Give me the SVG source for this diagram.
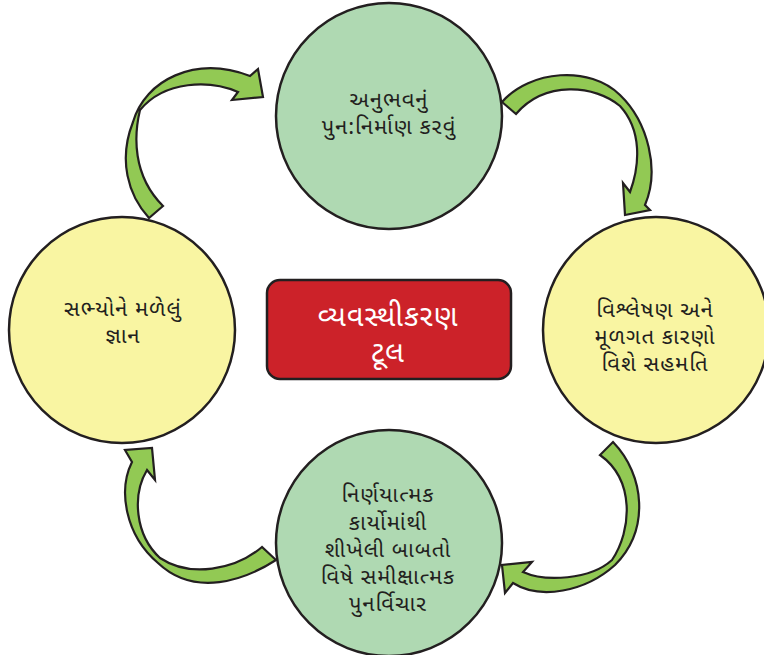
<svg xmlns="http://www.w3.org/2000/svg" width="764" height="655" viewBox="0 0 764 655">
  <style>
    .green { fill: #afd9b2; stroke: #231f20; stroke-width: 2.5; }
    .yellow { fill: #f9f5a2; stroke: #231f20; stroke-width: 2.5; }
    .arrow { fill: #92c954; stroke: #231f20; stroke-width: 2.2; stroke-linejoin: miter; }
    .label { font-family: "Noto Sans Gujarati", "Lohit Gujarati", "Shruti", "Noto Sans", sans-serif; font-size: 22px; fill: #231f20; text-anchor: middle; letter-spacing: 1px; }
    .title { font-family: "Noto Sans Gujarati", "Lohit Gujarati", "Shruti", "Noto Sans", sans-serif; font-size: 29px; fill: #ffffff; text-anchor: middle; letter-spacing: 1px; }
  </style>

  <!-- curved connectors between the four stages -->
  <g id="connectors">
    <!-- left stage to top stage -->
    <path class="arrow" d="M 149,218 C 128,195 118,160 133,122 C 145,80 195,55 250,76 L 258,69 L 263,97 L 232,100 L 238,92 C 210,80 165,80 140,110 C 134,135 132,175 163,206 Z"/>
    <!-- top stage to right stage -->
    <path class="arrow" d="M 502,102 C 530,70 590,65 620,95 C 648,122 660,170 645,205 L 650,210 L 625,215 L 623,183 L 630,192 C 640,165 642,130 620,106 C 595,85 545,80 516,114 Z"/>
    <!-- right stage to bottom stage -->
    <path class="arrow" d="M 613,442 C 645,475 650,530 615,565 C 585,592 540,600 513,583 L 505,593 L 502,565 L 532,562 L 523,572 C 545,582 590,580 612,560 C 632,530 635,480 600,455 Z"/>
    <!-- bottom stage to left stage -->
    <path class="arrow" d="M 276,560 C 245,580 195,598 158,563 C 125,535 118,490 132,462 L 125,450 L 152,448 L 155,480 L 147,470 C 132,495 135,535 160,558 C 190,578 235,570 262,547 Z"/>
  </g>

  <g id="node-top">
    <circle class="green" cx="389" cy="116" r="113"/>
    <text class="label" x="389" y="107">અનુભવનું</text>
    <text class="label" x="389" y="134">પુન:નિર્માણ કરવું</text>
  </g>

  <g id="node-right">
    <circle class="yellow" cx="656" cy="330" r="113"/>
    <text class="label" x="655" y="317">વિશ્લેષણ અને</text>
    <text class="label" x="655" y="344">મૂળગત કારણો</text>
    <text class="label" x="655" y="371">વિશે સહમતિ</text>
  </g>

  <g id="node-bottom">
    <circle class="green" cx="389" cy="543" r="113"/>
    <text class="label" x="388" y="502">નિર્ણયાત્મક</text>
    <text class="label" x="388" y="530">કાર્યોમાંથી</text>
    <text class="label" x="388" y="557">શીખેલી બાબતો</text>
    <text class="label" x="388" y="584">વિષે સમીક્ષાત્મક</text>
    <text class="label" x="388" y="611">પુનર્વિચાર</text>
  </g>

  <g id="node-left">
    <circle class="yellow" cx="122" cy="330" r="113"/>
    <text class="label" x="123" y="316">સભ્યોને મળેલું</text>
    <text class="label" x="123" y="343">જ્ઞાન</text>
  </g>

  <g id="node-center">
    <rect x="267" y="280" width="244" height="99" rx="13" fill="#cc2229" stroke="#231f20" stroke-width="2.5"/>
    <text class="title" x="388" y="326">વ્યવસ્થીકરણ</text>
    <text class="title" x="388" y="362">ટૂલ</text>
  </g>
</svg>
